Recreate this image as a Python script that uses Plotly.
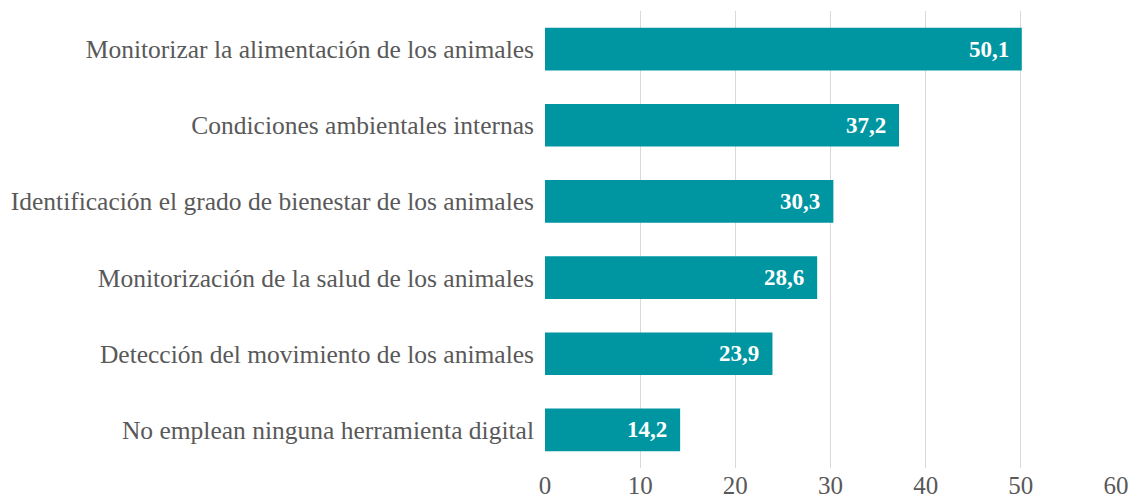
import plotly.graph_objects as go

categories = [
    "Monitorizar la alimentación de los animales",
    "Condiciones ambientales internas",
    "Identificación el grado de bienestar de los animales",
    "Monitorización de la salud de los animales",
    "Detección del movimiento de los animales",
    "No emplean ninguna herramienta digital",
]
values = [50.1, 37.2, 30.3, 28.6, 23.9, 14.2]
tick_vals = [0, 10, 20, 30, 40, 50, 60]

BAR = "#0096A1"
FONT = "Liberation Serif"

fig = go.Figure(go.Bar(
    y=categories, x=values, orientation="h",
    marker=dict(color=BAR, line=dict(width=0)),
    width=0.56,
))

for c, v in zip(categories, values):
    fig.add_annotation(
        x=v, y=c, xref="x", yref="y",
        text="<b>" + f"{v:.1f}".replace(".", ",") + "</b>",
        showarrow=False, xanchor="right", xshift=-11,
        font=dict(family=FONT, size=23, color="white"),
    )

fig.update_layout(
    width=1131, height=494,
    margin=dict(l=536, r=23, t=3, b=31),
    plot_bgcolor="white", paper_bgcolor="white",
    showlegend=False,
    separators=",.",
    font=dict(family=FONT, color="#595959"),
    xaxis=dict(
        range=[0, 60], tickvals=tick_vals, showgrid=True,
        gridcolor="#D9D9D9", gridwidth=1, zeroline=False,
        tickfont=dict(family=FONT, size=25, color="#595959"),
        ticks="", showline=False,
    ),
    yaxis=dict(
        autorange="reversed", ticks="", showline=False,
        tickfont=dict(family=FONT, size=25.5, color="#595959"),
        ticklabelstandoff=10,
    ),
)

fig.write_html("out.html")
